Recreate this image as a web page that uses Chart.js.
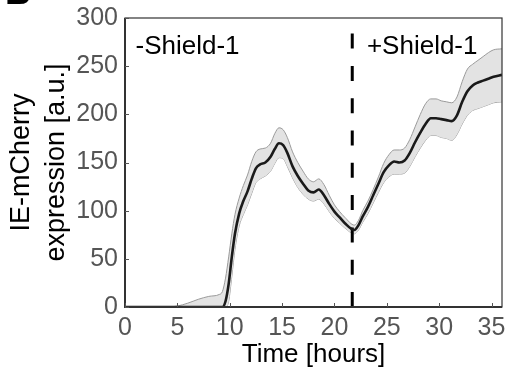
<!DOCTYPE html>
<html>
<head>
<meta charset="utf-8">
<script src="https://cdn.jsdelivr.net/npm/chart.js@4"></script>
<style>
  html, body { margin: 0; padding: 0; background: #fff; }
  #wrap { width: 506px; height: 372px; }
</style>
</head>
<body>
<div id="wrap"><canvas id="expr_chart" width="506" height="372"></canvas></div>
<script>
// temps (heures) et expression moyenne + bande d'erreur
const times = [0, 4, 5, 6, 7, 8, 9, 9.3, 9.6, 9.9, 10.2, 10.5, 10.9, 11.3, 11.7, 12.1, 12.5, 12.9, 13.4, 13.9,
    14.3, 14.7, 15.1, 15.5, 16, 16.5, 17, 17.5, 18, 18.5, 19, 19.5, 20, 20.5, 21, 21.9, 22.3, 22.7, 23.2, 23.7,
    24.2, 24.7, 25.2, 25.7, 26.2, 26.7, 27.2, 27.7, 28.2, 28.7, 29.2, 29.7, 30.2, 30.7, 31.2, 31.7, 32.2, 32.7,
    33.2, 33.7, 34.2, 34.7, 35.2, 36];
const meanExpr = [0, 0, 0, 0, 0, 0, 0, 0, 6, 24, 52, 76, 97, 110, 120, 133, 144, 148, 150, 156,
    164, 170, 168, 160, 146, 136, 128, 121, 119, 122, 116, 107, 99, 93, 87, 80, 85, 94, 104, 116,
    128, 140, 147, 151, 150, 152, 160, 171, 181, 190, 196, 196, 195, 194, 193, 199, 213, 224,
    230, 233, 235, 237, 239, 241];
const upperBand = [0, 0, 1, 4, 8, 11, 13, 16, 30, 52, 76, 96, 113, 126, 137, 151, 161, 164, 165, 170,
    180, 186, 184, 176, 161, 150, 141, 133, 130, 133, 127, 116, 106, 99, 93, 85, 90, 100, 110, 122,
    135, 149, 158, 163, 163, 165, 174, 187, 200, 211, 216, 216, 214, 213, 212, 218, 234, 247,
    252, 256, 260, 264, 267, 268];
const lowerBand = [0, 0, 0, 0, 0, 0, 0, 0, 0, 6, 32, 60, 84, 96, 106, 118, 129, 133, 136, 141,
    149, 155, 154, 146, 134, 124, 117, 112, 110, 112, 107, 99, 92, 87, 82, 76, 80, 88, 97, 108,
    119, 129, 135, 138, 138, 139, 146, 156, 165, 173, 178, 178, 176, 175, 173, 179, 190, 199,
    204, 206, 208, 210, 212, 213];
const shieldTime = 21.7;
const xTicks = [0, 5, 10, 15, 20, 25, 30, 35];
const yTicks = [0, 50, 100, 150, 200, 250, 300];
const phaseLabels = ["-Shield-1", "+Shield-1"];
const phaseLabelTimes = [1, 23.1];

const FONT = "'Liberation Sans', Arial, Helvetica, sans-serif";

function toPoints(values) {
    return times.map((t, i) => ({ x: t, y: values[i] }));
}

// cadre + graduations vers l'intérieur, textes d'annotation
const decorPlugin = {
    id: "decor",
    afterDraw(chart) {
        const ctx = chart.ctx;
        const a = chart.chartArea;
        const xs = chart.scales.x;
        const ys = chart.scales.y;
        ctx.save();
        ctx.strokeStyle = "#333";
        ctx.lineWidth = 1.2;
        ctx.strokeRect(a.left, a.top, a.right - a.left, a.bottom - a.top);
        // axes gauche et bas un peu plus épais
        ctx.lineWidth = 2;
        ctx.beginPath();
        ctx.moveTo(a.left, a.top);
        ctx.lineTo(a.left, a.bottom);
        ctx.lineTo(a.right, a.bottom);
        ctx.stroke();
        ctx.lineWidth = 1;
        ctx.strokeStyle = "#555";
        ctx.beginPath();
        xTicks.forEach((v) => {
            const px = Math.round(xs.getPixelForValue(v)) + 0.5;
            ctx.moveTo(px, a.bottom);
            ctx.lineTo(px, a.bottom - 4);
        });
        yTicks.forEach((v) => {
            const py = Math.round(ys.getPixelForValue(v)) + 0.5;
            ctx.moveTo(a.left, py);
            ctx.lineTo(a.left + 4, py);
        });
        ctx.stroke();

        ctx.fillStyle = "#000";
        ctx.font = "26px " + FONT;
        ctx.textBaseline = "alphabetic";
        ctx.textAlign = "left";
        phaseLabels.forEach((txt, i) => {
            ctx.fillText(txt, xs.getPixelForValue(phaseLabelTimes[i]), ys.getPixelForValue(263));
        });

        // lettre du panneau (coupée en haut)
        ctx.font = "bold 36px " + FONT;
        ctx.fillText("B", 5, 4);
        ctx.restore();
    },
};

var ctxExpr = document.getElementById("expr_chart").getContext("2d");
new Chart(ctxExpr, {
    type: "line",
    data: {
        datasets: [
            {
                label: "mean",
                data: toPoints(meanExpr),
                borderColor: "#1a1a1a",
                borderWidth: 2.6,
                pointRadius: 0,
                cubicInterpolationMode: "monotone",
                fill: false,
            },
            {
                label: "shield",
                data: [{ x: shieldTime, y: 0 }, { x: shieldTime, y: 300 }],
                borderColor: "#000",
                borderWidth: 3,
                borderDash: [15, 17.3],
                pointRadius: 0,
                fill: false,
            },
            {
                label: "upper",
                data: toPoints(upperBand),
                borderColor: "#9a9a9a",
                borderWidth: 1,
                pointRadius: 0,
                cubicInterpolationMode: "monotone",
                backgroundColor: "#e3e3e3",
                fill: "+1",
            },
            {
                label: "lower",
                data: toPoints(lowerBand),
                borderColor: "#9a9a9a",
                borderWidth: 1,
                pointRadius: 0,
                cubicInterpolationMode: "monotone",
                fill: false,
            },
        ],
    },
    options: {
        responsive: false,
        animation: false,
        events: [],
        layout: { padding: { top: 18, right: 4, left: 0, bottom: 0 } },
        plugins: {
            legend: { display: false },
            tooltip: { enabled: false },
        },
        scales: {
            x: {
                type: "linear",
                min: 0,
                max: 36,
                afterBuildTicks: (scale) => {
                    scale.ticks = xTicks.map((v) => ({ value: v }));
                },
                afterFit: (scale) => {
                    scale.height = 65;
                    scale.paddingLeft = 0;
                    scale.paddingRight = 0;
                },
                grid: { display: false, drawTicks: false },
                border: { display: false },
                ticks: {
                    color: "#555",
                    font: { family: FONT, size: 25 },
                    padding: 6,
                    maxRotation: 0,
                    autoSkip: false,
                },
                title: {
                    display: true,
                    text: "Time [hours]",
                    color: "#000",
                    font: { family: FONT, size: 26, lineHeight: 1.2 },
                    padding: { top: 0, bottom: 2 },
                },
            },
            y: {
                min: 0,
                max: 300,
                afterBuildTicks: (scale) => {
                    scale.ticks = yTicks.map((v) => ({ value: v }));
                },
                afterFit: (scale) => {
                    scale.width = 125;
                    scale.paddingTop = 0;
                    scale.paddingBottom = 0;
                },
                grid: { display: false, drawTicks: false },
                border: { display: false },
                ticks: {
                    color: "#555",
                    font: { family: FONT, size: 25 },
                    padding: 7,
                },
                title: {
                    display: true,
                    text: ["IE-mCherry", "expression [a.u.]"],
                    color: "#000",
                    font: { family: FONT, size: 27, lineHeight: 1.3 },
                    padding: { top: 4, bottom: 0 },
                },
            },
        },
    },
    plugins: [decorPlugin],
});
</script>
</body>
</html>
